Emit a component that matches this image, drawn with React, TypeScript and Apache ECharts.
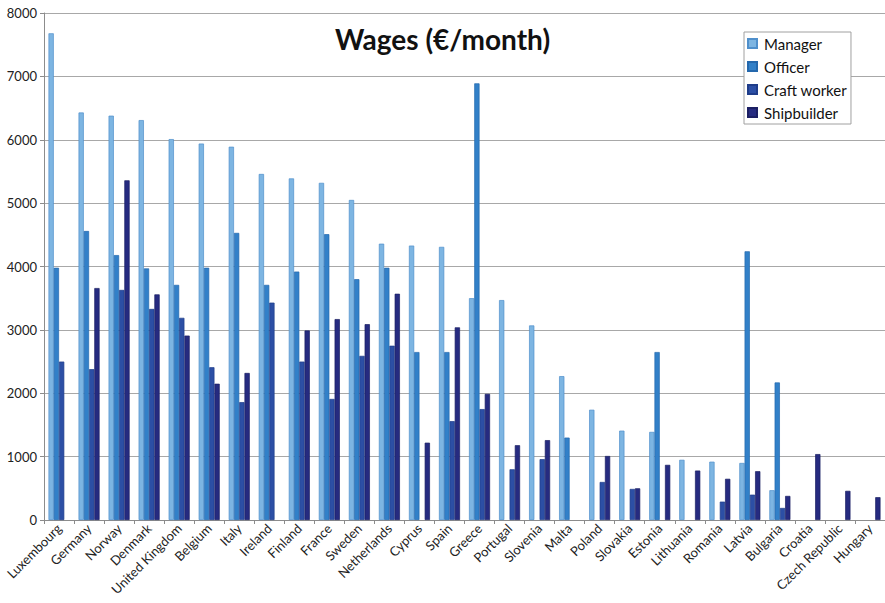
import React, { useEffect, useRef } from "react";
import * as echarts from "echarts";

const categories = [
  "Luxembourg", "Germany", "Norway", "Denmark", "United Kingdom", "Belgium", "Italy",
  "Ireland", "Finland", "France", "Sweden", "Netherlands", "Cyprus", "Spain", "Greece",
  "Portugal", "Slovenia", "Malta", "Poland", "Slovakia", "Estonia", "Lithuania", "Romania",
  "Latvia", "Bulgaria", "Croatia", "Czech Republic", "Hungary",
];

const manager = [7680, 6430, 6380, 6310, 6010, 5940, 5890, 5460, 5390, 5320, 5050, 4360, 4330, 4310, 3500, 3470, 3070, 2270, 1740, 1410, 1390, 950, 920, 900, 470, null, null, null];
const officer = [3980, 4560, 4180, 3970, 3710, 3980, 4530, 3710, 3920, 4510, 3800, 3980, 2650, 2650, 6890, null, null, 1300, null, null, 2650, null, null, 4240, 2170, null, null, null];
const craftWorker = [2500, 2380, 3630, 3330, 3190, 2410, 1860, 3430, 2500, 1910, 2590, 2750, null, 1560, 1750, 800, 960, null, 600, 490, null, null, 290, 400, 190, null, null, null];
const shipbuilder = [null, 3660, 5360, 3560, 2910, 2150, 2320, null, 2990, 3170, 3090, 3570, 1220, 3040, 1990, 1180, 1260, null, 1010, 500, 870, 780, 650, 770, 380, 1040, 460, 360];

const seriesNames = ["Manager", "Officer", "Craft worker", "Shipbuilder"];
const seriesData = [manager, officer, craftWorker, shipbuilder];
const fillColors = ["#7db5e2", "#3280c8", "#2c4fa5", "#262b80"];
const edgeColors = ["#4f8fcb", "#2468ad", "#1f3d8a", "#1b1f63"];

const FONT = "Lato, 'Open Sans', sans-serif";

export default function App() {
  const ref = useRef<HTMLDivElement>(null);

  useEffect(() => {
    if (!ref.current) return;
    const chart = echarts.init(ref.current, null, { renderer: "svg" });
    chart.setOption({
      animation: false,
      backgroundColor: "#ffffff",
      textStyle: { fontFamily: FONT },
      title: {
        text: "Wages (€/month)",
        left: "center",
        top: 25,
        padding: 0,
        textStyle: { fontSize: 28, fontWeight: "bold", color: "#111", fontFamily: FONT },
      },
      legend: {
        orient: "vertical",
        left: 744,
        top: 32,
        padding: [4, 4, 4, 3],
        itemWidth: 9,
        itemHeight: 9,
        itemGap: 8,
        borderColor: "#a0a0a0",
        borderWidth: 1,
        backgroundColor: "#ffffff",
        icon: "rect",
        data: seriesNames,
        textStyle: { fontSize: 15, color: "#111", fontFamily: FONT, padding: [0, 0, 0, 2] },
      },
      grid: { left: 44, top: 13, width: 847, height: 507, containLabel: false },
      xAxis: {
        type: "category",
        data: categories,
        boundaryGap: true,
        axisLine: { show: true, lineStyle: { color: "#8c8c8c", width: 1 } },
        axisTick: { show: true, alignWithLabel: false, length: 4, lineStyle: { color: "#8c8c8c" } },
        axisLabel: {
          interval: 0,
          rotate: 45,
          margin: 6,
          fontSize: 13,
          color: "#222",
          fontFamily: FONT,
        },
      },
      yAxis: {
        type: "value",
        min: 0,
        max: 8000,
        interval: 1000,
        axisLine: { show: true, lineStyle: { color: "#8c8c8c", width: 1 } },
        axisTick: { show: true, length: 4, lineStyle: { color: "#8c8c8c" } },
        axisLabel: {
          fontSize: 13,
          color: "#222",
          margin: 7,
          fontFamily: FONT,
          formatter: (v: number) => String(v),
        },
        splitLine: { show: true, lineStyle: { color: "#a8a8a8", width: 1 } },
      },
      series: seriesNames.map((name, i) => ({
        name,
        type: "bar",
        data: seriesData[i],
        barGap: "0%",
        barCategoryGap: "30%",
        itemStyle: { color: fillColors[i], borderColor: edgeColors[i], borderWidth: 0.7 },
      })),
    });
    return () => chart.dispose();
  }, []);

  return (
    <div
      ref={ref}
      style={{ position: "absolute", left: 0, top: 0, width: 885, height: 603 }}
    />
  );
}
